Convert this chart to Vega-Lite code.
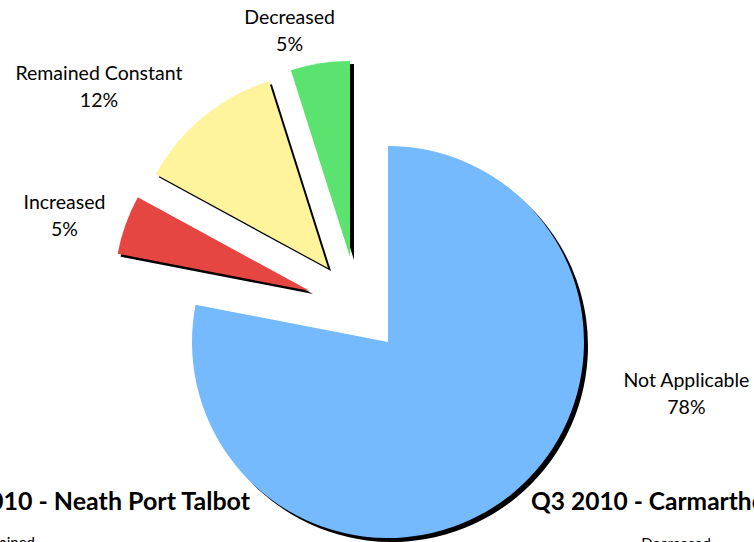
{
  "$schema": "https://vega.github.io/schema/vega-lite/v6.json",
  "width": 732,
  "height": 400,
  "autosize": {"type": "none"},
  "padding": {"left": 22, "top": 142, "right": 0, "bottom": 0},
  "background": "white",
  "config": {"view": {"stroke": null}, "text": {"font": "Lato"}},
  "data": {
    "values": [
      {"category": "Not Applicable", "value": 32, "order": 1},
      {"category": "Increased", "value": 2, "order": 2},
      {"category": "Remained Constant", "value": 5, "order": 3},
      {"category": "Decreased", "value": 2, "order": 4}
    ]
  },
  "transform": [
    {"stack": "value", "groupby": [], "sort": [{"field": "order", "order": "ascending"}], "as": ["start", "end"]},
    {"joinaggregate": [{"op": "sum", "field": "value", "as": "total"}]},
    {"calculate": "(datum.start + datum.end) / 2", "as": "mid"},
    {"calculate": "datum.category + '\\n' + format(datum.value / datum.total, '.0%')", "as": "label"}
  ],
  "encoding": {
    "theta": {"field": "end", "type": "quantitative", "stack": null, "scale": {"zero": true, "nice": false}},
    "theta2": {"field": "start"}
  },
  "layer": [
    {"transform": [{"filter": "datum.order == 1"}], "mark": {"type": "arc", "radius": 196, "fill": "black", "xOffset": 4, "yOffset": 4}},
    {"transform": [{"filter": "datum.order == 2"}], "mark": {"type": "arc", "radius": 196, "fill": "black", "xOffset": -75, "yOffset": -48}},
    {"transform": [{"filter": "datum.order == 3"}], "mark": {"type": "arc", "radius": 196, "fill": "black", "xOffset": -57, "yOffset": -71}},
    {"transform": [{"filter": "datum.order == 4"}], "mark": {"type": "arc", "radius": 196, "fill": "black", "xOffset": -34, "yOffset": -82}},
    {"transform": [{"filter": "datum.order == 1"}], "mark": {"type": "arc", "radius": 196, "fill": "#75B9FF"}},
    {"transform": [{"filter": "datum.order == 2"}], "mark": {"type": "arc", "radius": 196, "fill": "#E64641", "xOffset": -78, "yOffset": -51}},
    {"transform": [{"filter": "datum.order == 3"}], "mark": {"type": "arc", "radius": 196, "fill": "#FFF39B", "xOffset": -60, "yOffset": -74}},
    {"transform": [{"filter": "datum.order == 4"}], "mark": {"type": "arc", "radius": 196, "fill": "#5CE26E", "xOffset": -38, "yOffset": -85}},
    {
      "transform": [{"filter": "datum.order == 1"}],
      "mark": {"type": "text", "radius": 227, "dx": 154, "dy": -136, "fontSize": 19.5, "lineBreak": "\n", "lineHeight": 27, "align": "center", "baseline": "middle", "color": "black"},
      "encoding": {"theta": {"field": "mid", "type": "quantitative", "stack": null}, "theta2": null, "text": {"field": "label"}}
    },
    {
      "transform": [{"filter": "datum.order == 2"}],
      "mark": {"type": "text", "radius": 348, "dx": 4, "dy": -21, "fontSize": 19.5, "lineBreak": "\n", "lineHeight": 27, "align": "center", "baseline": "middle", "color": "black"},
      "encoding": {"theta": {"field": "mid", "type": "quantitative", "stack": null}, "theta2": null, "text": {"field": "label"}}
    },
    {
      "transform": [{"filter": "datum.order == 3"}],
      "mark": {"type": "text", "radius": 382, "dx": -46, "dy": 27, "fontSize": 19.5, "lineBreak": "\n", "lineHeight": 27, "align": "center", "baseline": "middle", "color": "black"},
      "encoding": {"theta": {"field": "mid", "type": "quantitative", "stack": null}, "theta2": null, "text": {"field": "label"}}
    },
    {
      "transform": [{"filter": "datum.order == 4"}],
      "mark": {"type": "text", "radius": 324, "dx": -49, "dy": -4, "fontSize": 19.5, "lineBreak": "\n", "lineHeight": 27, "align": "center", "baseline": "middle", "color": "black"},
      "encoding": {"theta": {"field": "mid", "type": "quantitative", "stack": null}, "theta2": null, "text": {"field": "label"}}
    },
    {
      "data": {"values": [{"note": "Q3 2010 - Neath Port Talbot"}]},
      "transform": [],
      "mark": {"type": "text", "x": 228, "y": 368, "align": "right", "baseline": "alphabetic", "fontSize": 25, "fontWeight": "bold", "color": "black"},
      "encoding": {"theta": null, "theta2": null, "text": {"field": "note"}}
    },
    {
      "data": {"values": [{"note": "Q3 2010 - Carmarthenshire"}]},
      "transform": [],
      "mark": {"type": "text", "x": 509, "y": 368, "align": "left", "baseline": "alphabetic", "fontSize": 24.5, "fontWeight": "bold", "color": "black"},
      "encoding": {"theta": null, "theta2": null, "text": {"field": "note"}}
    },
    {
      "data": {"values": [{"note": "Remained"}]},
      "transform": [],
      "mark": {"type": "text", "x": 13, "y": 394, "align": "right", "baseline": "top", "fontSize": 15, "color": "black"},
      "encoding": {"theta": null, "theta2": null, "text": {"field": "note"}}
    },
    {
      "data": {"values": [{"note": "Decreased"}]},
      "transform": [],
      "mark": {"type": "text", "x": 654, "y": 395, "align": "center", "baseline": "top", "fontSize": 15, "color": "black"},
      "encoding": {"theta": null, "theta2": null, "text": {"field": "note"}}
    }
  ]
}
